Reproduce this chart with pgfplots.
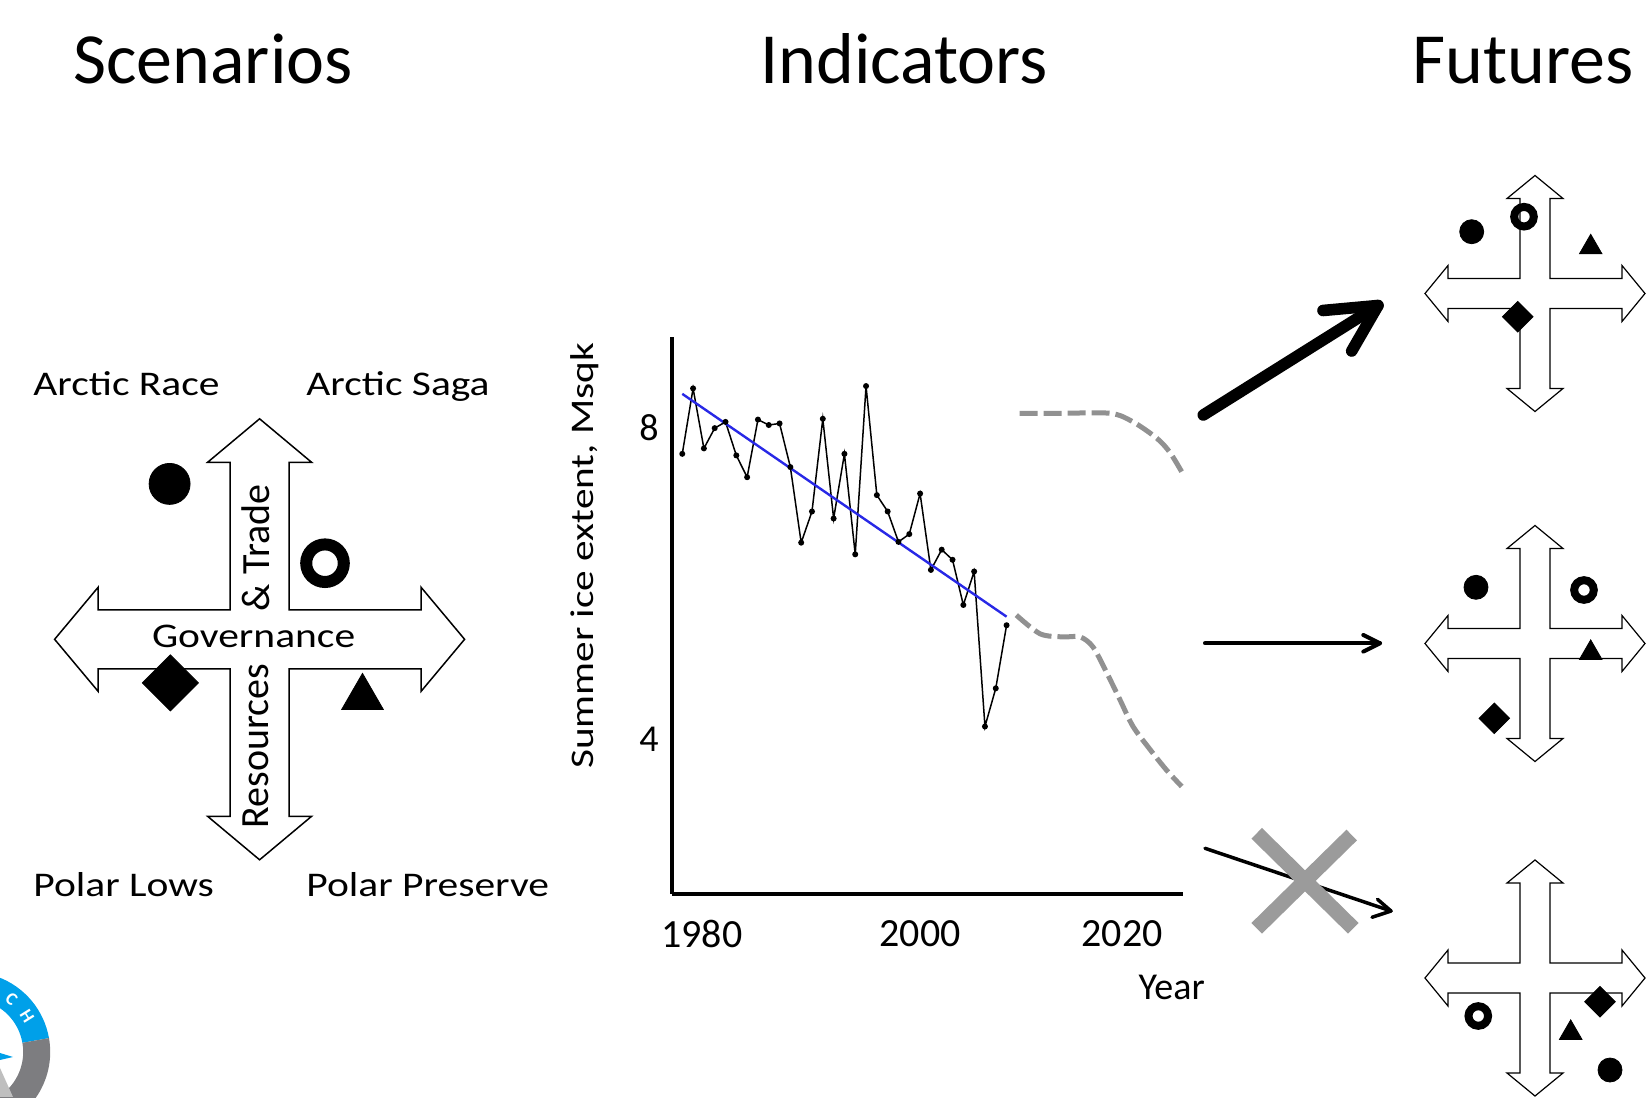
\documentclass[border=0pt]{standalone}
\usepackage{fontspec}
\setmainfont{Carlito}
\newfontfamily\widefont[FakeStretch=1.2]{Carlito}
\newfontfamily\ylabfont[FakeStretch=1.25]{Carlito}
\usepackage{pgfplots}
\pgfplotsset{compat=1.18}
\usepackage{pgfplotstable}

\definecolor{trendblue}{RGB}{40,40,230}
\definecolor{fcgray}{RGB}{145,145,145}
\definecolor{xgray}{RGB}{155,155,155}
\definecolor{logoblue}{RGB}{0,160,233}
\definecolor{logogray}{RGB}{125,125,128}

% September ice extent
\pgfplotstableread{
year extent
1979 7.61
1980 8.45
1981 7.68
1982 7.94
1983 8.02
1984 7.59
1985 7.31
1986 8.05
1987 7.98
1988 8.00
1989 7.44
1990 6.47
1991 6.87
1992 8.06
1993 6.78
1994 7.61
1995 6.32
1996 8.48
1997 7.08
1998 6.87
1999 6.48
2000 6.58
2001 7.10
2002 6.12
2003 6.38
2004 6.25
2005 5.67
2006 6.10
2007 4.11
2008 4.60
2009 5.41
}\icedata

\pgfplotstableread{
year extent
2010.2 8.13
2013.9 8.13
2018.6 8.13
2020.7 8.02
2022.9 7.81
2024.1 7.63
2025.2 7.38
}\highpath

\pgfplotstableread{
year extent
2009.9 5.54
2012.1 5.30
2014.2 5.26
2015.8 5.26
2017.0 5.13
2018.3 4.79
2019.5 4.45
2020.7 4.11
2022.3 3.81
2023.8 3.55
2025.2 3.34
}\lowpath

% cross-shaped double arrow: cx, cy, vertical arm, horizontal arm, half shaft, half head, head length, line width
\newcommand\crossarrow[8]{%
  \pgfmathsetmacro\xa{#1-#6}\pgfmathsetmacro\xb{#1-#5}%
  \pgfmathsetmacro\xc{#1+#5}\pgfmathsetmacro\xd{#1+#6}%
  \pgfmathsetmacro\xe{#1-#4}\pgfmathsetmacro\xf{#1-#4+#7}%
  \pgfmathsetmacro\xg{#1+#4-#7}\pgfmathsetmacro\xh{#1+#4}%
  \pgfmathsetmacro\ya{#2-#6}\pgfmathsetmacro\yb{#2-#5}%
  \pgfmathsetmacro\yc{#2+#5}\pgfmathsetmacro\yd{#2+#6}%
  \pgfmathsetmacro\ye{#2-#3}\pgfmathsetmacro\yf{#2-#3+#7}%
  \pgfmathsetmacro\yg{#2+#3-#7}\pgfmathsetmacro\yh{#2+#3}%
  \addplot[draw=black, fill=white, line width=#8, line join=miter] coordinates {
    (#1,\ye) (\xd,\yf) (\xc,\yf) (\xc,\yb) (\xg,\yb) (\xg,\ya) (\xh,#2)
    (\xg,\yd) (\xg,\yc) (\xc,\yc) (\xc,\yg) (\xd,\yg) (#1,\yh) (\xa,\yg)
    (\xb,\yg) (\xb,\yc) (\xf,\yc) (\xf,\yd) (\xe,#2) (\xf,\ya) (\xf,\yb)
    (\xb,\yb) (\xb,\yf) (\xa,\yf)} --cycle;
}

\begin{document}
\begin{tikzpicture}
% whole canvas, one unit = one pixel of the reference
\begin{axis}[
    name=bg,
    at={(0,0)}, anchor=south west,
    scale only axis,
    width=823pt, height=549pt,
    xmin=0, xmax=1646, ymin=0, ymax=1098,
    y dir=reverse,
    hide axis,
  ]
  % titles
  \node[anchor=base, font=\fontsize{36}{40}\selectfont] at (axis cs:213,83) {Scenarios};
  \node[anchor=base, font=\fontsize{36}{40}\selectfont] at (axis cs:904,83) {Indicators};
  \node[anchor=base, font=\fontsize{36}{40}\selectfont] at (axis cs:1523,83) {Futures};

  % scenario cross
  \crossarrow{259.6}{639.3}{220.5}{205}{29.5}{52}{43.5}{0.75pt}
  \node[anchor=base west, inner sep=0, font=\widefont\fontsize{17.3}{20}\selectfont] at (axis cs:33,395) {Arctic Race};
  \node[anchor=base west, inner sep=0, font=\widefont\fontsize{17.3}{20}\selectfont] at (axis cs:306,395) {Arctic Saga};
  \node[anchor=base west, inner sep=0, font=\widefont\fontsize{17.3}{20}\selectfont] at (axis cs:33,896) {Polar Lows};
  \node[anchor=base west, inner sep=0, font=\widefont\fontsize{17.3}{20}\selectfont] at (axis cs:306,896) {Polar Preserve};
  \node[anchor=base, inner sep=0, font=\widefont\fontsize{17.3}{20}\selectfont] at (axis cs:253.6,647) {Governance};
  \node[rotate=90, anchor=center, inner sep=0, font=\fontsize{20}{24}\selectfont] at (axis cs:255.4,746) {Resources};
  \node[rotate=90, anchor=center, inner sep=0, font=\fontsize{20}{24}\selectfont] at (axis cs:255.4,548) {\& Trade};

  \addplot[only marks, mark=*, mark size=10.25pt, mark options={fill=black, draw=none}] coordinates {(169.6,483.9)};
  \addplot[only marks, mark=o, mark size=9.4pt, mark options={line width=6pt, draw=black}] coordinates {(325,563.2)};
  \addplot[only marks, mark=square*, mark size=9.9pt, mark options={rotate=45, fill=black, draw=none}] coordinates {(170.4,682.9)};
  \addplot[only marks, mark=triangle*, mark size=12pt, mark options={fill=black, draw=none}] coordinates {(362.5,697.4)};

  % future crosses
  \crossarrow{1535}{293.5}{118}{110}{15}{28}{23}{0.6pt}
  \crossarrow{1535}{643.5}{118}{110}{15}{28}{23}{0.6pt}
  \crossarrow{1535}{978}{118}{110}{15}{28}{23}{0.6pt}

  \addplot[only marks, mark=*, mark size=6pt, mark options={fill=black, draw=none}] coordinates {(1471.7,231.7) (1476,587.3) (1610,1070)};
  \addplot[only marks, mark=o, mark size=4.9pt, mark options={line width=4pt, draw=black}] coordinates {(1524,216.7) (1584,590) (1478.3,1016)};
  \addplot[only marks, mark=triangle*, mark size=6.5pt, mark options={fill=black, draw=none}] coordinates {(1590.7,247.3) (1590.7,652.9) (1570.7,1032.9)};
  \addplot[only marks, mark=square*, mark size=5.4pt, mark options={rotate=45, fill=black, draw=none}] coordinates {(1517.7,316.7) (1494.3,718.3) (1600,1001.7)};

  % pathway arrows
  \addplot[line width=5.8pt, line cap=round, line join=round] coordinates {(1203.3,415) (1378,305.5)};
  \addplot[line width=5.8pt, line cap=round, line join=round] coordinates {(1323,310.5) (1378,305.5) (1351.7,351)};
  \addplot[line width=2pt, line cap=round, line join=round] coordinates {(1205,643.3) (1380,643.3)};
  \addplot[line width=2pt, line cap=round, line join=round] coordinates {(1363.3,635) (1380,643.3) (1363.3,651.6)};
  \addplot[line width=1.75pt, line cap=round, line join=round] coordinates {(1205,848.3) (1391,911)};
  \addplot[line width=1.75pt, line cap=round, line join=round] coordinates {(1377.5,899.3) (1391,911) (1372,917.3)};
  \addplot[line width=7.5pt, color=xgray] coordinates {(1256.7,833.3) (1353.3,928.3)};
  \addplot[line width=7.5pt, color=xgray] coordinates {(1351.7,835) (1256.7,928.3)};
\end{axis}

% indicator chart
\begin{axis}[
    name=ice,
    at={(336pt,102pt)}, anchor=south west,
    scale only axis,
    width=255.5pt, height=278.5pt,
    xmin=1978.05, xmax=2025.32,
    ymin=1.96, ymax=9.11,
    axis lines=left,
    axis line style={-, line width=1.7pt},
    every outer x axis line/.append style={-},
    every outer y axis line/.append style={-},
    major tick length=0pt,
    xtick={1980.8,2001,2019.7},
    xticklabels={1980,2000,2020},
    ytick={4,8},
    /pgf/number format/assume math mode=true,
    xticklabel style={anchor=center, yshift=-20pt, font=\fontsize{20}{24}\selectfont},
    yticklabel style={anchor=center, xshift=-11.5pt, yshift=-2pt, font=\fontsize{19}{23}\selectfont},
    ylabel={Summer ice extent, Msqk},
    xlabel={Year},
    every axis y label/.style={at={(axis description cs:-0.170,0.607)}, rotate=90, anchor=center, font=\ylabfont\fontsize{16.5}{20}\selectfont},
    every axis x label/.style={at={(axis description cs:0.978,-0.167)}, anchor=center, font=\fontsize{19}{23}\selectfont},
    clip=false,
  ]
  \addplot[black, line width=0.75pt, mark=*, mark size=1.1pt] table[x=year, y=extent] {\icedata};
  \addplot[trendblue, line width=1.2pt] coordinates {(1979,8.38) (2009,5.52)};
  \addplot[fcgray, line width=2.5pt, smooth, dash pattern=on 9pt off 3pt] table[x=year, y=extent] {\highpath};
  \addplot[fcgray, line width=2.5pt, smooth, dash pattern=on 9pt off 3pt] table[x=year, y=extent] {\lowpath};
\end{axis}

% partial logo in the lower left corner
\begin{scope}[shift={(-14.9pt,23pt)}]
  \fill[logoblue] (10:40pt) arc[start angle=10, end angle=105, radius=40pt] -- (105:26.5pt) arc[start angle=105, end angle=10, radius=26.5pt] -- cycle;
  \fill[logogray] (-70:40pt) arc[start angle=-70, end angle=10, radius=40pt] -- (10:26.5pt) arc[start angle=10, end angle=-70, radius=26.5pt] -- cycle;
  \node[white, rotate=-58, inner sep=0, font=\bfseries\fontsize{9}{10}\selectfont] at (32:33.5pt) {H};
  \node[white, rotate=-40, inner sep=0, font=\bfseries\fontsize{9}{10}\selectfont] at (52:33.5pt) {C};
  \fill[logoblue] (-15pt,0pt) -- (0pt,2pt) -- (-15pt,4pt) -- cycle;
\end{scope}
\fill[logoblue] (0,19pt) -- (6.5pt,20.5pt) -- (0,22.5pt) -- cycle;
\fill[black!25] (0,0.5pt) -- (6.5pt,0.5pt) -- (0,15pt) -- cycle;

\pgfresetboundingbox
\useasboundingbox (bg.south west) rectangle (bg.north east);
\end{tikzpicture}
\end{document}
